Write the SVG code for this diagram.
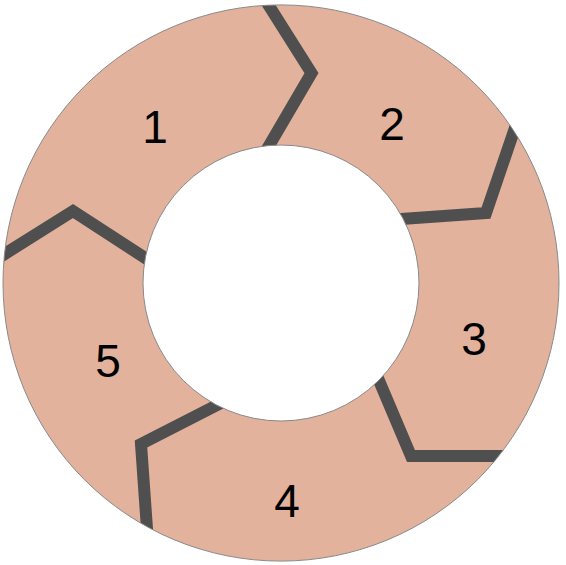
<svg xmlns="http://www.w3.org/2000/svg" width="566" height="565" viewBox="0 0 566 565">
<style>
.lbl{font-family:"Liberation Sans",Arial,sans-serif;font-size:46px;fill:#000;text-anchor:middle}
.div{fill:none;stroke:#4f4f4f;stroke-width:12;stroke-linejoin:miter;stroke-miterlimit:10}
</style>
<defs>
<clipPath id="ringclip">
<path clip-rule="evenodd" d="M3,283a278,278 0 1,0 556,0a278,278 0 1,0 -556,0z M143,283a138,138 0 1,0 276,0a138,138 0 1,0 -276,0z"/>
</clipPath>
</defs>
<g id="ring">
<path fill="#e2b29c" fill-rule="evenodd" d="M3,283a278,278 0 1,0 556,0a278,278 0 1,0 -556,0z M143,283a138,138 0 1,0 276,0a138,138 0 1,0 -276,0z"/>
</g>
<g id="connectors" clip-path="url(#ringclip)">
<polyline class="div" points="259,-10 311.5,73 263,156"/>
<polyline class="div" points="518,119 486,213 387,220"/>
<polyline class="div" points="372,364 411,456 509,456"/>
<polyline class="div" points="227,400 141,444 148,543"/>
<polyline class="div" points="-8,262 73,211 156,265"/>
</g>
<path fill="none" stroke="#8a8a8a" stroke-width="1" fill-rule="evenodd" d="M3,283a278,278 0 1,0 556,0a278,278 0 1,0 -556,0z M143,283a138,138 0 1,0 276,0a138,138 0 1,0 -276,0z"/>
<g id="node-1"><text class="lbl" x="155" y="143">1</text></g>
<g id="node-2"><text class="lbl" x="392" y="140">2</text></g>
<g id="node-3"><text class="lbl" x="474" y="355">3</text></g>
<g id="node-4"><text class="lbl" x="287" y="517">4</text></g>
<g id="node-5"><text class="lbl" x="108" y="377">5</text></g>
</svg>
